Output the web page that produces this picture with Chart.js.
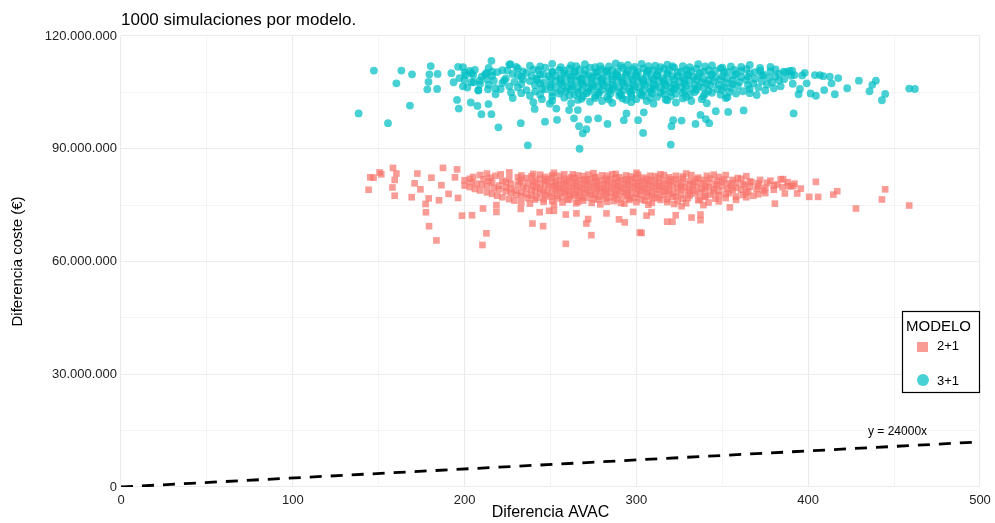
<!DOCTYPE html>
<html>
<head>
<meta charset="utf-8">
<script src="https://cdn.jsdelivr.net/npm/chart.js@4.4.1/dist/chart.umd.min.js"></script>
<style>
  body { margin: 0; background: #fff; }
  #wrap { width: 995px; height: 523px; }
</style>
</head>
<body>
<div id="wrap"><canvas id="grafico" width="995" height="523"></canvas></div>
<script>
// Datos: [diferencia AVAC, diferencia coste en millones de euros]
const titulo = '1000 simulaciones por modelo.';
const modelos = ['2+1', '3+1'];

// 2+1: puntos sueltos
const sueltos21 = [[144.1,79.1],[145.1,82.4],[147,82.3],[150.5,83.7],[151.5,83.2],[158.3,84.9],[160.3,83.4],[159.3,81.7],[158,79.7],[159.3,77.5],
  [169.2,77.1],[170.9,80.8],[172.5,83.4],[174.3,79.2],[177.3,75.3],[177.5,73.1],[179.3,69.4],[183.6,65.6],[179.1,76.8],[185.1,76.3],
  [180.7,82.3],[186.5,80.3],[187.4,84.9],[190.7,78.0],[196.2,76.9],[195.6,84.5],[194.4,82.4],[198.5,72.2],[204.3,72.3],[210.4,64.4],
  [212.7,67.5],[210.7,74.1],[218.5,73.2],[218.5,75.0],[232.7,74.0],[243.7,73.1],[239.5,70.1],[245.7,69.4],[249.2,73.5],[252,73.5],
  [258.9,64.7],[258.9,72.5],[265.1,72.8],[271.9,71.3],[270.9,70.1],[273.8,67.0],[282.6,72.8],[289.9,71.2],[293.2,70.4],[302,67.7],
  [298.1,73.2],[305.9,72.2],[308.8,73.1],[303,67.6],[317.9,70.6],[321,70.6],[322.9,72.3],[326.3,74.7],[332.1,71.7],[337.3,71.0],
  [337.3,72.5],[354.4,74.4],[380.6,75.4],[386.4,78.1],[385.4,81.9],[393.6,78.1],[395.7,79.4],[400.6,77.2],[405.8,77.2],[404.5,81.2],
  [414.6,77.8],[416.9,78.7],[427.8,74.1],[442.9,76.5],[444.8,79.2],[458.8,74.9],[388.4,80.1],[391.3,80.1]];

// 2+1: nube central
const nube21 = [[213,83.4],[226,83.7],[240,83.3],[252,83.6],[263,83.2],[275,83.5],[288,83.3],[300,83.6],[314,83.2],[329,83.4],[345,83.1],
  [205,82.5],[218,82.8],[231,82.4],[239,82.7],[247,82.5],[255,82.8],[262,82.4],[269,82.7],[276,82.5],[283,82.8],[290,82.4],[297,82.6],[304,82.3],[311,82.7],[319,82.4],[327,82.6],[336,82.3],[348,82.5],[359,82.2],
  [200,81.6],[211,81.9],[222,81.5],[233,81.8],[241,81.6],[248,81.9],[255,81.5],[261,81.8],[267,81.6],[273,81.9],[279,81.5],[285,81.8],[291,81.6],[297,81.9],[303,81.5],[309,81.7],[316,81.5],[323,81.8],[331,81.4],[339,81.7],[347,81.5],[356,81.7],[366,81.3],[378,81.5],
  [207,80.7],[216,81.0],[227,80.6],[237,80.9],[244,80.7],[251,81.0],[257,80.6],[263,80.9],[269,80.7],[275,81.0],[281,80.6],[287,80.9],[293,80.7],[299,80.9],[305,80.6],[311,80.9],[317,80.7],[324,80.9],[331,80.6],[338,80.8],[346,80.5],[354,80.8],[362,80.6],[371,80.8],[382,80.5],[392,80.7],
  [203,79.8],[213,80.1],[224,79.7],[234,80.0],[242,79.8],[249,80.1],[255,79.7],[261,80.0],[267,79.8],[273,80.1],[279,79.7],[285,80.0],[291,79.8],[297,80.1],[303,79.7],[309,80.0],[315,79.8],[321,80.0],[328,79.7],[335,79.9],[342,79.7],[350,80.0],[358,79.6],[366,79.9],[375,79.6],[385,79.8],
  [209,78.9],[220,79.2],[230,78.8],[239,79.1],[246,78.9],[253,79.2],[259,78.8],[265,79.1],[271,78.9],[277,79.2],[283,78.8],[289,79.1],[295,78.9],[301,79.2],[307,78.8],[313,79.0],[319,78.8],[326,79.1],[333,78.8],[340,79.0],[348,78.7],[356,79.0],[365,78.7],[374,78.9],
  [216,78.0],[227,78.3],[236,77.9],[244,78.2],[251,78.0],[258,78.3],[264,77.9],[270,78.2],[276,78.0],[282,78.3],[288,77.9],[294,78.2],[300,78.0],[306,78.2],[312,77.9],[319,78.1],[326,77.8],[334,78.1],[343,77.8],[352,78.0],[362,77.7],[371,77.9],
  [222,77.1],[233,77.4],[242,77.0],[250,77.3],[257,77.1],[264,77.4],[271,77.0],[278,77.3],[285,77.1],[292,77.3],[299,77.0],[306,77.3],[313,77.0],[321,77.2],[330,76.9],[340,77.2],[352,76.9],[364,77.1],
  [229,76.2],[241,76.5],[251,76.1],[260,76.4],[269,76.2],[278,76.5],[287,76.1],[296,76.4],[305,76.2],[314,76.4],[324,76.1],[336,76.3],[348,76.0],
  [238,75.4],[252,75.1],[265,75.5],[279,75.2],[293,75.4],[307,75.1],[322,75.3],[339,75.0]];

// 2+1: nube central, filas intermedias
const nube21b = [[209,83.0],[221,83.2],[233,82.9],[244,83.1],[251,82.9],[258,83.2],[266,82.9],[272,83.1],[280,82.9],[286,83.2],[294,82.9],[301,83.1],[308,82.8],[316,83.0],[323,82.8],[332,83.0],[341,82.8],[352,83.0],[364,82.7],
  [203,82.0],[215,82.3],[226,82.0],[236,82.2],[244,82.0],[251,82.3],[258,82.0],[264,82.2],[270,81.9],[276,82.2],[282,82.0],[288,82.2],[294,81.9],[300,82.2],[306,82.0],[313,82.2],[320,81.9],[327,82.1],[335,81.9],[343,82.1],[351,81.8],[361,82.0],[372,81.7],[384,81.9],
  [204,81.1],[214,81.4],[224,81.1],[232,81.3],[240,81.1],[247,81.4],[253,81.1],[259,81.3],[265,81.1],[271,81.4],[277,81.1],[283,81.3],[289,81.1],[295,81.4],[301,81.1],[307,81.3],[313,81.0],[320,81.3],[327,81.0],[334,81.2],[342,81.0],[350,81.2],[358,80.9],[367,81.1],[376,80.9],[388,81.1],
  [200,80.2],[210,80.5],[220,80.2],[231,80.4],[240,80.2],[247,80.5],[253,80.2],[259,80.4],[265,80.2],[271,80.5],[277,80.2],[283,80.4],[289,80.2],[295,80.5],[301,80.2],[307,80.4],[313,80.2],[319,80.4],[326,80.1],[333,80.4],[340,80.1],[347,80.3],[355,80.1],[363,80.3],[371,80.0],[380,80.2],[390,80.0],
  [206,79.3],[217,79.6],[227,79.3],[236,79.5],[244,79.3],[251,79.6],[257,79.3],[263,79.5],[269,79.3],[275,79.6],[281,79.3],[287,79.5],[293,79.3],[299,79.6],[305,79.3],[311,79.5],[317,79.2],[324,79.5],[331,79.2],[338,79.4],[345,79.2],[353,79.4],[361,79.1],[370,79.3],[380,79.1],
  [213,78.4],[224,78.7],[233,78.4],[241,78.6],[248,78.4],[255,78.7],[261,78.4],[267,78.6],[273,78.4],[279,78.7],[285,78.4],[291,78.6],[297,78.4],[303,78.7],[309,78.4],[316,78.6],[322,78.3],[330,78.6],[337,78.3],[345,78.5],[354,78.2],[364,78.4],[375,78.2],
  [219,77.5],[230,77.8],[239,77.5],[247,77.7],[254,77.5],[261,77.8],[267,77.5],[274,77.7],[281,77.5],[288,77.8],[295,77.5],[302,77.7],[309,77.4],[316,77.7],[323,77.4],[331,77.6],[340,77.4],[348,77.6],[358,77.3],[368,77.5],
  [226,76.6],[237,76.9],[246,76.6],[254,76.8],[261,76.6],[268,76.9],[275,76.6],[282,76.8],[289,76.6],[296,76.8],[303,76.5],[310,76.8],[318,76.5],[327,76.7],[337,76.5],[346,76.7],[358,76.4],
  [233,75.7],[246,75.9],[257,75.7],[266,75.9],[274,75.6],[283,75.9],[291,75.6],[300,75.8],[309,75.6],[318,75.8],[329,75.5],[342,75.7]];

// 3+1: puntos sueltos
const sueltos31 = [[138.3,99.4],[147.2,110.8],[155.4,96.8],[160.3,107.4],[163.2,110.8],[169.4,109.8],[168.2,101.5],[180.3,112.0],[179.5,109.8],[184.3,109.9],
  [179,107.8],[178.3,105.8],[184,105.9],[195.6,103],[196.6,100.7],[203.6,102.3],[207.5,101.4],[209.8,99.2],[213.9,101.9],[215.6,99.2],
  [219.7,95.7],[215.6,113.4],[226.7,112.5],[232.7,96.8],[236.8,90.9],[240.8,100.6],[246.8,97.2],[253.8,97.7],[263.7,98.1],[266.6,96.0],
  [270.9,95.2],[268.8,94.1],[266.9,90.0],[277.7,98.1],[283.2,96.6],[271.9,97.8],[303.9,94.2],[320,91.1],[301,97.6],[304.3,99.7],
  [292.7,97.6],[294.2,99.4],[260.8,100.3],[265.9,100.3],[249.6,102],[253.4,100.7],[321.4,97.6],[320.4,96.0],[326.3,97.5],[334.4,96.6],
  [337.3,99.0],[340.4,97.9],[342.4,96.8],[346.2,100.0],[353.4,99.8],[362.4,100.2],[391.5,99.4],[458.8,106.0],[462.1,105.9],[444.8,104.6],
  [442.9,102.9],[435.7,105.3],[437.3,107.0],[439.4,108.1],[429.5,108.1],[422.7,106.1],[417.5,108.8],[412.6,109.2],[413.6,107.4],[415.5,104.5],
  [409.3,105.6],[404.5,104.1],[401.4,104.7],[403.9,109.6],[406.8,109.6],[408.7,109.3],[396.5,109.5],[399.1,107.4],[395.2,105.9],[394.4,104.5],
  [390.7,110.8],[385.8,110.5],[192.3,110.1],[196.2,111.8],[199.1,111.7],[200.6,109.6],[193.6,107.7],[204,110.1],[205.3,107.7],[208.8,108.1],
  [212.7,110.2],[201.6,106.3],[208,105.6],[213.6,105.8]];

// 3+1: nube central
const nube31 = [[226,112.4],[238,112.1],[251,112.6],[262,112.2],[270,112.5],[279,112.0],[288,112.7],[295,112.3],[303,112.6],[311,112.1],[318,112.4],[327,112.0],[336,112.5],[344,112.2],[355,111.9],[366,112.3],[378,111.8],
  [206,111.0],[214,111.5],[222,110.9],[231,111.4],[240,111.1],[247,111.6],[255,111.0],[261,111.4],[267,111.1],[273,111.6],[280,111.2],[286,110.9],[292,111.5],[298,111.1],[304,111.4],[310,110.9],[316,111.3],[322,111.6],[329,111.0],[335,111.3],[342,110.9],[349,111.4],[357,111.0],[364,111.2],[372,110.8],[381,111.1],[389,110.7],
  [200,110.3],[212,109.8],[219,110.4],[228,109.9],[236,110.2],[244,109.8],[251,110.4],[258,110.0],[264,110.3],[270,109.8],[276,110.2],[282,110.5],[288,109.9],[294,110.2],[300,110.0],[306,110.4],[312,109.8],[318,110.1],[324,110.4],[330,109.9],[337,110.2],[344,109.8],[351,110.3],[358,109.9],[366,110.1],[374,109.7],[383,110.0],[392,109.6],[398,110.2],
  [197,108.8],[210,109.2],[224,108.7],[233,109.1],[242,108.8],[249,109.3],[256,108.9],[262,109.2],[268,108.7],[274,109.1],[280,108.8],[286,109.3],[291,108.9],[297,109.2],[303,108.7],[309,109.0],[315,108.8],[321,109.3],[327,108.9],[333,109.1],[339,108.6],[346,109.0],[353,108.7],[361,109.1],[369,108.6],[377,108.9],[386,108.5],
  [204,107.7],[217,108.1],[229,107.8],[238,108.0],[246,107.6],[253,108.1],[259,107.8],[265,108.2],[271,107.7],[277,108.0],[283,107.8],[289,108.2],[295,107.7],[301,108.0],[307,107.8],[313,108.1],[319,107.6],[325,107.9],[331,108.1],[338,107.7],[345,107.9],[352,107.5],[360,107.8],[368,107.4],[379,107.7],[391,107.3],
  [199,106.6],[214,107.0],[226,106.6],[241,106.9],[250,106.5],[257,106.9],[263,106.6],[269,107.0],[275,106.7],[281,106.9],[287,106.5],[293,106.8],[299,106.6],[305,107.0],[311,106.7],[317,106.9],[323,106.5],[329,106.8],[336,106.6],[343,106.9],[351,106.4],[359,106.7],[371,106.3],[384,106.6],
  [208,105.5],[221,105.9],[236,105.6],[247,105.8],[256,105.4],[262,105.8],[268,105.5],[274,105.9],[280,105.6],[286,105.8],[292,105.4],[298,105.7],[304,105.5],[310,105.9],[316,105.6],[322,105.8],[328,105.4],[335,105.7],[342,105.4],[350,105.6],[362,105.3],[375,105.5],
  [218,104.5],[233,104.8],[244,104.4],[255,104.7],[264,104.4],[271,104.8],[278,104.5],[285,104.7],[291,104.3],[297,104.6],[303,104.4],[309,104.8],[316,104.5],[323,104.6],[331,104.3],[340,104.6],[349,104.4],[358,104.7],[370,104.3],
  [228,103.5],[245,103.2],[258,103.6],[268,103.3],[276,103.5],[284,103.1],[292,103.4],[300,103.2],[308,103.5],[317,103.1],[327,103.4],[338,103.2],[352,103.5],
  [240,102.4],[262,102.1],[273,102.5],[286,102.2],[297,102.4],[310,102.0],[323,102.3],[341,102.1]];

// 3+1: nube central, filas intermedias
const nube31b = [[230,111.8],[244,111.9],[256,111.7],[265,112.0],[276,111.7],[284,111.9],[291,112.1],[299,111.8],[307,112.0],[314,111.7],[321,112.0],[331,111.7],[340,111.9],[350,111.6],[361,111.8],[372,111.5],
  [203,110.7],[216,110.5],[225,110.8],[234,110.6],[243,110.9],[251,110.5],[258,110.8],[264,110.6],[270,110.9],[277,110.5],[283,110.8],[289,110.6],[295,110.8],[301,110.5],[307,110.8],[313,110.6],[319,110.9],[326,110.5],[332,110.7],[339,110.5],[346,110.8],[353,110.5],[361,110.7],[369,110.4],[378,110.6],[387,110.3],
  [205,109.6],[216,109.4],[231,109.6],[239,109.4],[246,109.7],[253,109.4],[260,109.6],[266,109.3],[272,109.6],[278,109.4],[283,109.7],[289,109.4],[294,109.6],[300,109.4],[306,109.7],[312,109.4],[318,109.6],[324,109.4],[330,109.6],[336,109.3],[343,109.6],[350,109.3],[357,109.5],[365,109.2],[373,109.5],[381,109.2],[390,109.4],
  [200,108.3],[213,108.5],[223,108.2],[234,108.5],[242,108.3],[250,108.6],[256,108.3],[262,108.5],[268,108.3],[274,108.6],[280,108.3],[286,108.5],[292,108.2],[298,108.5],[304,108.3],[310,108.5],[316,108.2],[322,108.5],[328,108.3],[335,108.5],[342,108.2],[349,108.4],[356,108.1],[364,108.3],[373,108.0],[383,108.2],
  [209,107.2],[222,107.5],[233,107.2],[244,107.4],[250,107.1],[256,107.4],[262,107.2],[268,107.5],[274,107.2],[280,107.4],[286,107.1],[292,107.4],[298,107.2],[304,107.5],[310,107.2],[316,107.4],[322,107.1],[328,107.3],[334,107.1],[341,107.3],[348,107.0],[356,107.2],[365,106.9],[376,107.1],
  [218,106.1],[231,106.3],[245,106.0],[253,106.3],[260,106.0],[266,106.3],[272,106.1],[278,106.4],[284,106.1],[290,106.3],[296,106.0],[302,106.2],[308,106.0],[314,106.3],[320,106.1],[326,106.3],[332,106.0],[339,106.2],[347,105.9],[355,106.2],[366,105.9],[380,106.1],
  [227,105.0],[241,105.2],[251,105.0],[259,105.3],[266,105.0],[272,105.2],[278,105.0],[284,105.3],[290,105.0],[296,105.2],[302,104.9],[308,105.2],[314,104.9],[320,105.1],[327,104.9],[334,105.1],[344,104.9],[354,105.1],[366,104.8],
  [238,104.1],[251,103.9],[261,104.2],[269,103.9],[276,104.1],[283,103.8],[290,104.1],[297,103.9],[304,104.1],[312,103.8],[320,104.0],[329,103.8],[339,104.0],[353,103.7],
  [251,102.8],[266,103.0],[280,102.7],[294,103.0],[306,102.7],[318,102.9],[332,102.7]];

// recta y = 24000x (en millones)
const recta = [[0, 0], [500, 12]];
const etiquetaRecta = 'y = 24000x';
const etiquetaPos = [452, 14.8];

const xMarcas = [0, 100, 200, 300, 400, 500];
const xEtiquetas = ['0', '100', '200', '300', '400', '500'];
const yMarcas = [0, 30, 60, 90, 120];
const yEtiquetas = ['0', '30.000.000', '60.000.000', '90.000.000', '120.000.000'];

const colores = ['rgba(248,118,109,0.72)', 'rgba(0,191,196,0.72)'];
const fuente = '"Liberation Sans", Helvetica, Arial, sans-serif';

const aPuntos = arr => arr.map(p => ({ x: p[0], y: p[1] }));

const extras = {
  id: 'extras',
  afterDraw(chart) {
    const { ctx, chartArea: a, scales: { x, y } } = chart;
    ctx.save();
    ctx.fillStyle = '#000';
    ctx.textBaseline = 'middle';
    ctx.font = '17px ' + fuente;
    ctx.fillText(titulo, a.left, 20);

    ctx.font = '12px ' + fuente;
    ctx.textAlign = 'center';
    ctx.fillText(etiquetaRecta, x.getPixelForValue(etiquetaPos[0]), y.getPixelForValue(etiquetaPos[1]));

    // leyenda
    ctx.fillStyle = '#fff';
    ctx.fillRect(902, 311, 78, 82);
    ctx.strokeStyle = '#000';
    ctx.lineWidth = 1.2;
    ctx.strokeRect(902.5, 311.5, 77, 81);
    ctx.textAlign = 'left';
    ctx.fillStyle = '#000';
    ctx.font = '15px ' + fuente;
    ctx.fillText('MODELO', 906, 327);
    ctx.fillStyle = colores[0];
    ctx.fillRect(917, 342, 11, 10);
    ctx.fillStyle = colores[1];
    ctx.beginPath();
    ctx.arc(923, 380, 6, 0, Math.PI * 2);
    ctx.fill();
    ctx.fillStyle = '#000';
    ctx.font = '13px ' + fuente;
    ctx.fillText(modelos[0], 937, 346);
    ctx.fillText(modelos[1], 937, 381);
    ctx.restore();
  }
};

const grid = {
  color: '#ebebeb',
  lineWidth: c => (c.tick && (c.scale.axis === 'x' ? c.tick.value % 100 === 0 : c.tick.value % 30 === 0)) ? 1.1 : 0.55,
  drawTicks: false
};

new Chart(document.getElementById('grafico'), {
  type: 'scatter',
  data: {
    datasets: [
      {
        label: modelos[0],
        data: aPuntos(sueltos21.concat(nube21, nube21b)),
        backgroundColor: colores[0],
        pointStyle: 'rect',
        pointRadius: 4.7,
        pointBorderWidth: 0,
        order: 2
      },
      {
        label: modelos[1],
        data: aPuntos(sueltos31.concat(nube31, nube31b)),
        backgroundColor: colores[1],
        pointStyle: 'circle',
        pointRadius: 3.9,
        pointBorderWidth: 0,
        order: 1
      },
      {
        type: 'line',
        label: etiquetaRecta,
        data: aPuntos(recta),
        borderColor: '#000',
        borderWidth: 2.8,
        borderDash: [12, 9],
        pointRadius: 0,
        fill: false,
        order: 0
      }
    ]
  },
  options: {
    responsive: false,
    devicePixelRatio: 1,
    animation: false,
    events: [],
    layout: { padding: { top: 36, right: 15, left: 0, bottom: 0 } },
    plugins: { legend: { display: false }, tooltip: { enabled: false } },
    scales: {
      x: {
        type: 'linear',
        min: 0, max: 500,
        grid: grid,
        border: { display: false },
        afterFit: s => { s.height = 36; s.paddingRight = 0; s.paddingLeft = 0; },
        ticks: {
          stepSize: 50, autoSkip: false, maxRotation: 0, padding: 6,
          color: '#222', font: { family: fuente, size: 13 },
          callback: v => { const i = xMarcas.indexOf(v); return i < 0 ? '' : xEtiquetas[i]; }
        },
        title: { display: true, text: 'Diferencia AVAC', color: '#000', font: { family: fuente, size: 16 }, padding: { top: 0, bottom: 1 } }
      },
      y: {
        type: 'linear',
        min: 0, max: 120,
        grid: grid,
        border: { display: false },
        afterFit: s => { s.width = 121; },
        ticks: {
          stepSize: 15, autoSkip: false, padding: 4,
          color: '#222', font: { family: fuente, size: 13 },
          callback: v => { const i = yMarcas.indexOf(v); return i < 0 ? '' : yEtiquetas[i]; }
        },
        title: { display: true, text: 'Diferencia coste (€)', color: '#000', font: { family: fuente, size: 15 }, padding: { top: 9, bottom: 0 } }
      }
    }
  },
  plugins: [extras]
});
</script>
</body>
</html>
